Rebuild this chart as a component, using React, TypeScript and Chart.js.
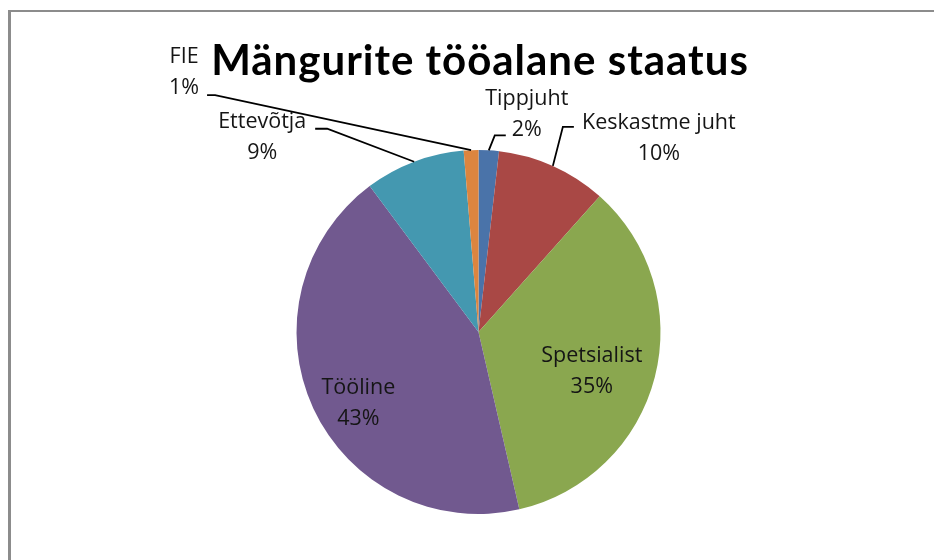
import React, { useEffect, useRef } from "react";
import { Chart, registerables } from "chart.js";

Chart.register(...registerables);

const TITLE = "Mängurite tööalane staatus";
const CATEGORIES = ["Tippjuht", "Keskastme juht", "Spetsialist", "Tööline", "Ettevõtja", "FIE"];
const VALUES = [1.8, 9.8, 34.8, 43.4, 8.9, 1.3];
const COLORS = ["#4A73A9", "#A94845", "#8AA74F", "#71598F", "#4498B0", "#DC853F"];

// label block offsets relative to the slice's outer mid-point, with optional leader line points
const LABEL_LAYOUT: { dx: number; dy: number; line?: number[][] }[] = [
  { dx: 38, dy: -36, line: [[6, -15], [17, -15]] },
  { dx: 106, dy: -28, line: [[10, -39], [21, -39]] },
  { dx: -63, dy: -6 },
  { dx: 45, dy: -5 },
  { dx: -152, dy: -24, line: [[-87, -33], [-99, -33]] },
  { dx: -287, dy: -78, line: [[-256, -55], [-264, -55]] },
];

const LABEL_FONT = "21.5px 'Open Sans', Lato, sans-serif";
const TITLE_FONT = "bold 42px Lato, 'Open Sans', sans-serif";

const framePlugin = {
  id: "frame",
  beforeDraw(chart: any) {
    const ctx = chart.ctx;
    ctx.save();
    ctx.fillStyle = "#ffffff";
    ctx.fillRect(0, 0, chart.width, chart.height);
    ctx.fillStyle = "#8c8c8c";
    ctx.fillRect(8, 10, chart.width - 8, 2);
    ctx.fillRect(8, 10, 3, chart.height - 10);
    ctx.restore();
  },
};

const labelPlugin = {
  id: "sliceLabels",
  afterDatasetsDraw(chart: any) {
    const ctx = chart.ctx;
    const meta = chart.getDatasetMeta(0);
    const data: number[] = chart.data.datasets[0].data;
    const total = data.reduce((a, b) => a + b, 0);
    ctx.save();
    // title
    ctx.font = TITLE_FONT;
    (ctx as any).letterSpacing = "1px";
    ctx.fillStyle = "#000";
    ctx.textAlign = "center";
    ctx.textBaseline = "alphabetic";
    ctx.fillText(TITLE, 480, 75);
    (ctx as any).letterSpacing = "0px";

    ctx.font = LABEL_FONT;
    ctx.textBaseline = "middle";
    meta.data.forEach((arc: any, i: number) => {
      const p = arc.getProps(["x", "y", "startAngle", "endAngle", "outerRadius"], true);
      const mid = (p.startAngle + p.endAngle) / 2;
      const ex = p.x + Math.cos(mid) * p.outerRadius;
      const ey = p.y + Math.sin(mid) * p.outerRadius;
      const lay = LABEL_LAYOUT[i];
      if (lay.line) {
        ctx.strokeStyle = "#000";
        ctx.lineWidth = 1.8;
        ctx.beginPath();
        ctx.moveTo(ex, ey);
        lay.line.forEach((pt) => ctx.lineTo(ex + pt[0], ey + pt[1]));
        ctx.stroke();
      }
      const cx = ex + lay.dx;
      const cy = ey + lay.dy;
      ctx.fillStyle = "#151515";
      ctx.textAlign = "center";
      ctx.fillText(CATEGORIES[i], cx, cy - 15.5);
      ctx.fillText(Math.round((data[i] / total) * 100) + "%", cx, cy + 15.5);
    });
    ctx.restore();
  },
};

export default function App() {
  const ref = useRef<HTMLCanvasElement>(null);
  useEffect(() => {
    if (!ref.current) return;
    const chart = new Chart(ref.current, {
      type: "pie",
      data: {
        labels: CATEGORIES,
        datasets: [
          {
            data: VALUES,
            backgroundColor: COLORS,
            borderWidth: 0,
          },
        ],
      },
      options: {
        animation: false,
        responsive: false,
        layout: { padding: { left: 296.5, right: 273.5, top: 150, bottom: 46 } },
        plugins: {
          legend: { display: false },
          title: { display: false },
          tooltip: { enabled: false },
        },
      },
      plugins: [framePlugin, labelPlugin],
    });
    return () => chart.destroy();
  }, []);
  return (
    <div style={{ position: "absolute", left: 0, top: 0, width: 934, height: 560 }}>
      <canvas ref={ref} width={934} height={560} />
    </div>
  );
}
